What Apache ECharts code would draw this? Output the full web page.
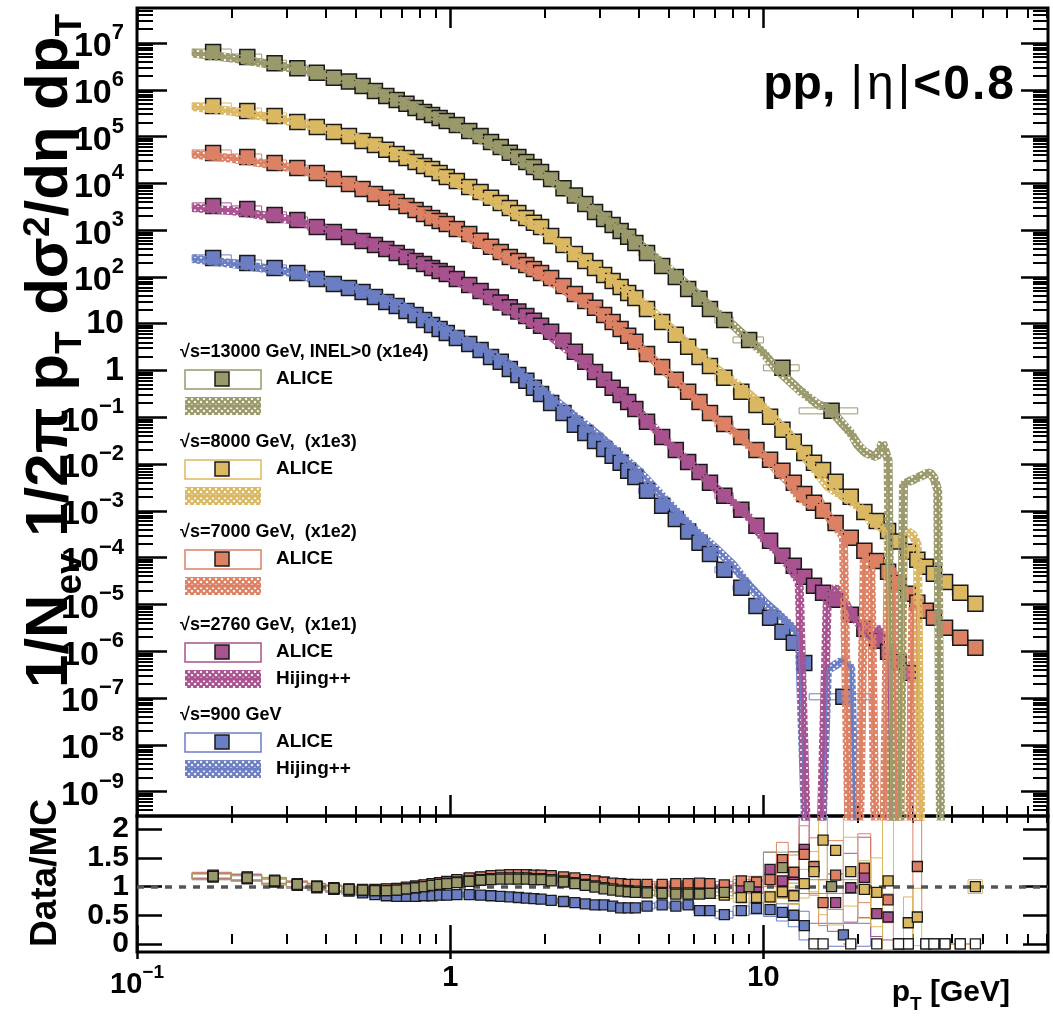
<!DOCTYPE html>
<html>
<head>
<meta charset="utf-8">
<title>pp charged particle spectra</title>
<script src="https://cdn.jsdelivr.net/npm/echarts@6/dist/echarts.min.js"></script>
<style>
  html, body { margin: 0; padding: 0; background: #fff; }
  #chart { width: 1053px; height: 1016px; }
</style>
</head>
<body>
<div id="chart"></div>
<script>
// pT bin edges in GeV (shared low part, then per energy)
let edgesLow = [0.15, 0.2, 0.25, 0.3, 0.35, 0.4, 0.45, 0.5, 0.55, 0.6, 0.65, 0.7, 0.75, 0.8, 0.85, 0.9, 0.95,
    1.0, 1.1, 1.2, 1.3, 1.4, 1.5, 1.6, 1.7, 1.8, 1.9, 2.0, 2.2, 2.4, 2.6, 2.8, 3.0, 3.2, 3.4, 3.6, 3.8,
    4.0, 4.5, 5.0, 5.5, 6.0, 6.5, 7.0, 8.0];
let edges13000 = edgesLow.concat([10, 13, 20]);
let edges8000 = edgesLow.concat([9, 10, 11, 12, 13, 14, 15, 16, 18, 20, 22, 24, 26, 28, 30, 32, 34, 36, 40, 45, 50]);
let edges7000 = edges8000;
let edges2760 = edgesLow.concat([9, 10, 11, 12, 13, 14, 15, 16, 18, 20, 22, 24, 26, 28, 30]);
let edges900 = edgesLow.concat([9, 10, 11, 12, 13, 14, 22]);

// ALICE spectra, already multiplied by the scale factor in the legend
let alice13000 = [6.4e6, 5.0e6, 3.7e6, 2.9e6, 2.3e6, 1.8e6, 1.5e6, 1.2e6, 9.4e5, 7.4e5, 6.05e5, 5.0e5, 4.1e5, 3.36e5, 2.9e5, 2.5e5, 2.15e5,
    1.77e5, 1.32e5, 1.03e5, 7.7e4, 6.0e4, 4.5e4, 3.66e4, 2.87e4, 2.24e4, 1.75e4,
    1.24e4, 7.9e3, 5.5e3, 3.6e3, 2.45e3, 1.73e3, 1.29e3, 960, 720, 530,
    326, 172, 100, 55, 34, 20.7,
    12,
    4.5, 1.14, 0.137];
let alice8000 = [4.5e5, 3.5e5, 2.75e5, 2.05e5, 1.6e5, 1.25e5, 1.03e5, 8.05e4, 6.6e4, 5.2e4, 4.25e4, 3.5e4, 2.87e4, 2.35e4, 2.03e4, 1.67e4, 1.37e4,
    1.12e4, 8.4e3, 6.55e3, 4.9e3, 3.8e3, 2.98e3, 2.33e3, 1.82e3, 1.43e3, 1.17e3,
    750, 483, 310, 220, 156, 110, 82, 61, 45.5, 35.6,
    20.7, 10.9, 5.8, 3.2, 1.95, 1.25,
    0.70,
    0.35, 0.184, 0.102, 0.054, 0.030, 0.0173, 0.0106, 0.0075,
    0.0042, 0.0020, 9.5e-4, 6.1e-4, 3.7e-4, 2.2e-4, 1.33e-4, 9.0e-5, 6.4e-5, 4.5e-5,
    3.0e-5, 1.77e-5, 1.03e-5];
let alice7000 = [4.47e4, 3.66e4, 2.73e4, 2.13e4, 1.67e4, 1.24e4, 9.7e3, 7.6e3, 5.9e3, 4.9e3, 4.0e3, 3.3e3, 2.7e3, 2.22e3, 1.82e3, 1.57e3, 1.36e3,
    1.06e3, 830, 590, 440, 342, 267, 220, 180, 148, 122,
    95, 64, 43, 30.7, 21.8, 15.4, 10.9, 7.7, 5.5, 4.1,
    2.26, 1.19, 0.63, 0.35, 0.213, 0.124,
    0.072,
    0.038, 0.020, 0.0123, 0.0072, 0.0040, 0.0023, 0.00148, 0.0010,
    5.5e-4, 2.65e-4, 1.4e-4, 8.5e-5, 5.0e-5, 2.9e-5, 1.68e-5, 1.08e-5, 7.3e-6, 5.2e-6,
    3.16e-6, 1.93e-6, 1.18e-6];
let alice2760 = [3.3e3, 2.84e3, 2.11e3, 1.65e3, 1.17e3, 916, 716, 588, 483, 396, 326, 267, 220, 190, 156, 134, 116,
    90.6, 67.5, 50.2, 37.4, 28.5, 22.5, 18.2, 14.7, 11.5, 9.0,
    6.7, 4.3, 2.5, 1.53, 0.93, 0.63, 0.425, 0.30, 0.213, 0.151,
    0.080, 0.038, 0.020, 0.0111, 0.0068, 0.0040,
    0.0021,
    0.00105, 4.8e-4, 2.3e-4, 1.09e-4, 6.7e-5, 3.9e-5, 2.5e-5, 1.77e-5,
    1.25e-5, 6.0e-6, 3.0e-6, 1.67e-6, 9.7e-7, 5.9e-7, 3.45e-7];
let alice900 = [255, 199, 156, 122, 90.6, 71, 58.2, 47.8, 37.4, 29.2, 24.0, 18.8, 15.4, 12.0, 9.4, 7.7, 6.35,
    4.97, 3.7, 2.75, 1.95, 1.53, 1.08, 0.805, 0.60, 0.425, 0.316,
    0.203, 0.124, 0.069, 0.046, 0.031, 0.0211, 0.0150, 0.0106, 0.0072, 0.0053,
    0.0027, 0.00128, 6.7e-4, 3.6e-4, 2.07e-4, 1.2e-4,
    5.5e-5,
    2.26e-5, 9.3e-6, 5.2e-6, 2.6e-6, 1.51e-6, 5.6e-7, 1.06e-7];

// Hijing++ curves (same scale factors), 0 = empty MC bin
let mcPt = [0.15, 0.2, 0.3, 0.4, 0.5, 0.7, 1.0, 1.5, 2.0, 3.0, 4.0, 5.0, 6.0, 7.0, 8.0, 9.0,
    10, 11, 12, 13, 14, 15, 16, 17, 18, 19, 20, 21, 22, 23, 24, 25, 26, 27, 28, 29, 30, 31, 32, 33, 34, 35, 36, 37, 38];
let mc13000 = [6.1e6, 4.8e6, 3.07e6, 2.07e6, 1.42e6, 5.6e5, 1.89e5, 4.57e4, 1.44e4, 2180, 522, 148, 50.2, 18.8, 9.25, 4.5,
    2.38, 1.08, 0.63, 0.385, 0.26, 0.184, 0.159, 0.107, 0.069, 0.046, 0.0257, 0.0182, 0.0157, 0.0143, 0.0284, 0.0123,
    0, 0, 0.0036, 0.0042, 0.0046, 0.0051, 0.0056, 0.0062, 0.0065, 0.0051, 0.0028, 0, 0];
let mc8000 = [4.4e5, 3.47e5, 2.26e5, 1.45e5, 9.8e4, 3.94e4, 1.18e4, 2940, 893, 131, 34.2, 8.7, 2.84, 1.15, 0.58, 0.313,
    0.167, 0.085, 0.0475, 0.0211, 0.0108, 0.0060, 0.0034, 0.00255, 0.0020, 0.00158, 0.00125, 0.0010, 5.8e-4, 5.0e-4, 4.3e-4, 3.4e-4,
    0, 0, 3.07e-4, 3.56e-4, 3.07e-4, 1.88e-4, 0, 0, 0, 0, 0, 0, 0];
let mc7000 = [4.25e4, 3.42e4, 2.24e4, 1.44e4, 9.0e3, 3.63e3, 1.15e3, 252, 96.6, 17.2, 3.39, 0.81, 0.26, 0.098, 0.050, 0.0245,
    0.0155, 0.0075, 0.0042, 0.0019, 0.00138, 0.00172, 8.2e-4, 4.6e-4, 2.8e-4, 0, 0, 1.06e-4, 9.0e-5, 0, 0, 6.5e-5,
    5.0e-5, 0, 0, 0, 1.0e-5, 8e-6, 0, 0, 0, 0, 0, 0, 0];
let mc2760 = [3.03e3, 2.61e3, 1.73e3, 1.06e3, 692, 295, 98.6, 21.2, 6.95, 0.76, 0.132, 0.027, 0.0087, 0.00316, 0.00153, 7.2e-4,
    2.55e-4, 1.4e-4, 7.0e-5, 3.04e-5, 0, 0, 1.6e-5, 2.26e-5, 1.38e-5, 6.0e-6, 4.25e-6, 2.6e-6, 1.75e-6, 3.16e-6, 2.24e-6, 2.07e-6,
    0, 0, 0, 0, 0, 0, 0, 0, 0, 0, 0, 0, 0];
let mc900 = [246, 194, 131, 80.5, 57.4, 24.1, 6.71, 1.53, 0.345, 0.039, 0.0070, 0.00142, 4.0e-4, 1.62e-4, 6.9e-5, 2.5e-5,
    1.16e-5, 6.7e-6, 3.95e-6, 2.24e-6, 0, 0, 4.0e-7, 5.1e-7, 6.5e-7, 4.4e-7, 0, 0, 0, 0, 0, 0,
    0, 0, 0, 0, 0, 0, 0, 0, 0, 0, 0, 0, 0];

// Data/MC ratio and its uncertainty, one entry per ALICE bin
let ratio13000 = [1.18, 1.15, 1.10, 1.04, 1.00, 0.97, 0.95, 0.94, 0.93, 0.93, 0.94, 0.96, 0.98, 1.00, 1.02, 1.04, 1.05,
    1.07, 1.09, 1.11, 1.12, 1.13, 1.13, 1.13, 1.13, 1.12, 1.12,
    1.10, 1.08, 1.05, 1.02, 0.99, 0.96, 0.94, 0.92, 0.91, 0.90,
    0.89, 0.88, 0.87, 0.87, 0.87, 0.88,
    0.90,
    1.00, 1.33, 1.00];
let ratio8000 = [1.17, 1.14, 1.09, 1.03, 0.99, 0.96, 0.94, 0.93, 0.93, 0.93, 0.94, 0.96, 0.98, 1.00, 1.02, 1.04, 1.06,
    1.08, 1.10, 1.12, 1.14, 1.15, 1.15, 1.15, 1.15, 1.14, 1.14,
    1.12, 1.10, 1.07, 1.04, 1.01, 0.98, 0.96, 0.94, 0.93, 0.92,
    0.91, 0.90, 0.89, 0.89, 0.88, 0.88,
    0.85,
    0.81, 0.81, 0.82, 0.91, 0.84, 1.05, 1.26, 1.81,
    1.63, 1.26, 0.95, 0.90, 1.10, 0, 0.37, 0.47, 0, 0,
    0, 0, 1.00];
let ratio7000 = [1.20, 1.17, 1.11, 1.05, 1.01, 0.98, 0.96, 0.95, 0.95, 0.96, 0.97, 0.99, 1.01, 1.03, 1.05, 1.07, 1.09,
    1.12, 1.15, 1.17, 1.19, 1.20, 1.21, 1.21, 1.21, 1.20, 1.20,
    1.19, 1.17, 1.15, 1.12, 1.10, 1.08, 1.06, 1.05, 1.04, 1.04,
    1.04, 1.04, 1.05, 1.05, 1.06, 1.05,
    1.03,
    1.10, 1.08, 1.12, 1.47, 1.25, 1.56, 1.35, 0.72,
    1.20, 0, 1.32, 0, 0.77, 0, 0, 1.35, 0, 0,
    0, 0, 0];
let ratio2760 = [1.19, 1.16, 1.10, 1.04, 1.00, 0.97, 0.95, 0.94, 0.94, 0.95, 0.96, 0.98, 1.00, 1.02, 1.04, 1.06, 1.08,
    1.11, 1.14, 1.16, 1.18, 1.19, 1.19, 1.19, 1.19, 1.18, 1.18,
    1.16, 1.13, 1.10, 1.07, 1.05, 1.03, 1.01, 1.00, 0.99, 0.99,
    0.99, 1.00, 1.00, 1.01, 1.00, 0.98,
    0.97,
    0.98, 1.00, 1.30, 1.10, 1.21, 1.65, 0, 0,
    0.72, 0.98, 1.16, 0.53, 0.47, 0, 0];
let ratio900 = [1.17, 1.14, 1.08, 1.02, 0.98, 0.95, 0.92, 0.89, 0.86, 0.84, 0.83, 0.83, 0.83, 0.84, 0.84, 0.85, 0.85,
    0.86, 0.86, 0.85, 0.84, 0.83, 0.82, 0.81, 0.80, 0.79, 0.78,
    0.76, 0.74, 0.72, 0.70, 0.68, 0.68, 0.66, 0.63, 0.63, 0.63,
    0.66, 0.68, 0.66, 0.68, 0.58, 0.58,
    0.51,
    0.58, 0.62, 0.60, 0.55, 0.50, 0.32, 0.16];

let err13000 = [0.05, 0.05, 0.05, 0.05, 0.05, 0.05, 0.05, 0.05, 0.05, 0.05, 0.05, 0.05, 0.05, 0.05, 0.05, 0.05, 0.05,
    0.04, 0.04, 0.04, 0.04, 0.04, 0.04, 0.04, 0.04, 0.04, 0.04,
    0.04, 0.04, 0.04, 0.04, 0.04, 0.04, 0.04, 0.04, 0.04, 0.04,
    0.05, 0.05, 0.05, 0.05, 0.05, 0.05,
    0.06,
    0.12, 0.27, 0.12];
let err8000 = [0.05, 0.05, 0.05, 0.05, 0.05, 0.05, 0.05, 0.05, 0.05, 0.05, 0.05, 0.05, 0.05, 0.05, 0.05, 0.05, 0.05,
    0.04, 0.04, 0.04, 0.04, 0.04, 0.04, 0.04, 0.04, 0.04, 0.04,
    0.04, 0.04, 0.04, 0.04, 0.04, 0.04, 0.04, 0.04, 0.04, 0.04,
    0.05, 0.05, 0.05, 0.05, 0.05, 0.05,
    0.06,
    0.08, 0.08, 0.10, 0.12, 0.15, 0.25, 0.35, 1.3,
    1.3, 0.6, 0.5, 0.6, 1.2, 0, 0.45, 0.5, 0, 0,
    0, 0, 0.12];
let err7000 = [0.05, 0.05, 0.05, 0.05, 0.05, 0.05, 0.05, 0.05, 0.05, 0.05, 0.05, 0.05, 0.05, 0.05, 0.05, 0.05, 0.05,
    0.04, 0.04, 0.04, 0.04, 0.04, 0.04, 0.04, 0.04, 0.04, 0.04,
    0.04, 0.04, 0.04, 0.04, 0.04, 0.04, 0.04, 0.04, 0.04, 0.04,
    0.05, 0.05, 0.05, 0.05, 0.05, 0.05,
    0.06,
    0.08, 0.10, 0.12, 0.3, 0.3, 0.5, 0.5, 0.4,
    0.6, 0, 0.6, 0, 0.4, 0, 0, 0.8, 0, 0,
    0, 0, 0];
let err2760 = [0.05, 0.05, 0.05, 0.05, 0.05, 0.05, 0.05, 0.05, 0.05, 0.05, 0.05, 0.05, 0.05, 0.05, 0.05, 0.05, 0.05,
    0.04, 0.04, 0.04, 0.04, 0.04, 0.04, 0.04, 0.04, 0.04, 0.04,
    0.04, 0.04, 0.04, 0.04, 0.04, 0.04, 0.04, 0.04, 0.04, 0.04,
    0.05, 0.05, 0.05, 0.05, 0.05, 0.05,
    0.06,
    0.08, 0.10, 0.3, 0.3, 0.4, 0.6, 0, 0,
    0.5, 0.6, 0.7, 0.4, 0.4, 0, 0];
let err900 = [0.05, 0.05, 0.05, 0.05, 0.05, 0.05, 0.05, 0.05, 0.05, 0.05, 0.05, 0.05, 0.05, 0.05, 0.05, 0.05, 0.05,
    0.04, 0.04, 0.04, 0.04, 0.04, 0.04, 0.04, 0.04, 0.04, 0.04,
    0.04, 0.04, 0.04, 0.04, 0.04, 0.04, 0.04, 0.04, 0.04, 0.04,
    0.05, 0.05, 0.05, 0.05, 0.05, 0.05,
    0.06,
    0.08, 0.10, 0.12, 0.15, 0.2, 0.25, 0.2];

// axis ticks
let xMajor = [0.1, 1, 10];
let yMajor = [1e-9, 1e-8, 1e-7, 1e-6, 1e-5, 1e-4, 1e-3, 1e-2, 0.1, 1, 10, 100, 1e3, 1e4, 1e5, 1e6, 1e7];
let ratioTicks = [0, 0.5, 1, 1.5, 2];
// labels split over two axes so that neighbouring labels are not thinned out
let ratioLabelsA = [0, 1, 2];
let ratioLabelsB = [0.5, 1.5];
let xMin = 0.1, xMax = 81;
let yMin = 3e-10, yMax = 5.6e7;
let ratioMin = -0.14, ratioMax = 2.23;

let font = 'Liberation Sans, Arial, sans-serif';

let xMinor = [];
xMajor.forEach(function (d) {
    for (let k = 2; k <= 9; k++) {
        if (k * d <= xMax) xMinor.push(k * d);
    }
});
let yMinor = [];
[1e-10].concat(yMajor).forEach(function (d) {
    for (let k = 2; k <= 9; k++) {
        if (k * d >= yMin && k * d <= yMax) yMinor.push(k * d);
    }
});

function hatchPattern(color) {
    let c = document.createElement('canvas');
    c.width = 6;
    c.height = 6;
    let ctx = c.getContext('2d');
    ctx.strokeStyle = color;
    ctx.lineWidth = 2.1;
    for (let d = -6; d <= 6; d += 6) {
        ctx.beginPath(); ctx.moveTo(d, 0); ctx.lineTo(d + 6, 6); ctx.stroke();
        ctx.beginPath(); ctx.moveTo(d + 6, 0); ctx.lineTo(d, 6); ctx.stroke();
    }
    return {image: c, repeat: 'repeat'};
}

let sets = [
    {label: '√s=13000 GeV, INEL>0 (x1e4)', color: '#9a996b', edges: edges13000, data: alice13000, mc: mc13000, ratio: ratio13000, err: err13000, mcLabel: ''},
    {label: '√s=8000 GeV,  (x1e3)', color: '#dbb862', edges: edges8000, data: alice8000, mc: mc8000, ratio: ratio8000, err: err8000, mcLabel: ''},
    {label: '√s=7000 GeV,  (x1e2)', color: '#dd8165', edges: edges7000, data: alice7000, mc: mc7000, ratio: ratio7000, err: err7000, mcLabel: ''},
    {label: '√s=2760 GeV,  (x1e1)', color: '#a8528f', edges: edges2760, data: alice2760, mc: mc2760, ratio: ratio2760, err: err2760, mcLabel: 'Hijing++'},
    {label: '√s=900 GeV', color: '#6b7ec3', edges: edges900, data: alice900, mc: mc900, ratio: ratio900, err: err900, mcLabel: 'Hijing++'}
];
sets.forEach(function (s) { s.hatch = hatchPattern(s.color); });

function mainBox(color) {
    return function (params, api) {
        let a = api.coord([api.value(0), api.value(2)]);
        let b = api.coord([api.value(1), api.value(2)]);
        return {
            type: 'rect',
            shape: {x: a[0], y: a[1] - 3, width: b[0] - a[0], height: 6},
            style: {fill: 'none', stroke: color, lineWidth: 1}
        };
    };
}

function ratioBox(color) {
    return function (params, api) {
        let a = api.coord([api.value(0), api.value(2) + api.value(3)]);
        let b = api.coord([api.value(1), api.value(2) - api.value(3)]);
        return {
            type: 'rect',
            shape: {x: a[0], y: a[1], width: b[0] - a[0], height: b[1] - a[1]},
            style: {fill: 'none', stroke: color, lineWidth: 1}
        };
    };
}

function center(s, i) {
    return (s.edges[i] + s.edges[i + 1]) / 2;
}

let series = [];
let drawOrder = sets.slice().reverse();

drawOrder.forEach(function (s) {
    series.push({
        type: 'custom', xAxisIndex: 0, yAxisIndex: 0, clip: true, silent: true, z: 2,
        renderItem: mainBox(s.color),
        encode: {x: [0, 1], y: 2},
        data: s.data.map(function (v, i) { return [s.edges[i], s.edges[i + 1], v]; })
    });
});
drawOrder.forEach(function (s) {
    series.push({
        type: 'scatter', xAxisIndex: 0, yAxisIndex: 0, silent: true, z: 3,
        symbol: 'rect', symbolSize: 15,
        itemStyle: {color: s.color, borderColor: '#1a1a1a', borderWidth: 1.5, opacity: 1},
        data: s.data.map(function (v, i) { return [center(s, i), v]; })
    });
});
drawOrder.forEach(function (s) {
    // empty MC bins fall off the bottom of the log axis
    let curve = mcPt.map(function (p, i) { return [p, s.mc[i] > 0 ? s.mc[i] : 1e-12]; });
    series.push({
        type: 'line', xAxisIndex: 0, yAxisIndex: 0, silent: true, z: 4, clip: true,
        symbol: 'none', lineStyle: {width: 9, color: s.hatch},
        data: curve
    });
});
drawOrder.forEach(function (s) {
    let curve = mcPt.map(function (p, i) { return [p, s.mc[i] > 0 ? s.mc[i] : 1e-12]; });
    series.push({
        type: 'line', xAxisIndex: 0, yAxisIndex: 0, silent: true, z: 5, clip: true,
        symbol: 'none', lineStyle: {width: 2.5, color: s.color},
        data: curve
    });
});

// ratio panel
drawOrder.forEach(function (s) {
    series.push({
        type: 'custom', xAxisIndex: 4, yAxisIndex: 4, clip: true, silent: true, z: 2,
        renderItem: ratioBox(s.color),
        encode: {x: [0, 1], y: 2},
        data: s.ratio.map(function (r, i) { return [s.edges[i], s.edges[i + 1], r, s.err[i]]; })
    });
});
drawOrder.forEach(function (s, k) {
    let ser = {
        type: 'scatter', xAxisIndex: 4, yAxisIndex: 4, silent: true, z: 4, clip: true,
        symbol: 'rect', symbolSize: 10,
        itemStyle: {
            color: function (p) { return p.value[1] === 0 ? '#ffffff' : s.color; },
            borderColor: '#1a1a1a', borderWidth: 1.3, opacity: 1
        },
        data: s.ratio.map(function (r, i) { return [center(s, i), r]; })
    };
    if (k === 0) {
        ser.markLine = {
            silent: true, symbol: ['none', 'none'], z: 3,
            label: {show: false},
            lineStyle: {color: '#555', type: [7, 7], width: 3.5},
            data: [{yAxis: 1}]
        };
    }
    series.push(ser);
});

let tickLine = function (w) { return {color: '#000', width: w}; };

function logX(grid, pos, ticks, len, width, labels) {
    let axis = {
        type: 'log', logBase: 10, min: xMin, max: xMax, gridIndex: grid, position: pos,
        axisLine: {show: false}, splitLine: {show: false},
        axisTick: {show: true, inside: true, length: len, customValues: ticks, lineStyle: tickLine(width)},
        axisLabel: {show: false}
    };
    if (labels) {
        axis.axisLabel = {
            show: true, customValues: xMajor, margin: 11, color: '#000',
            showMinLabel: true, showMaxLabel: true,
            fontSize: 29, fontWeight: 'bold', fontFamily: font,
            formatter: function (v) {
                let e = Math.round(Math.log10(v));
                if (e === 0) return '1';
                if (e === 1) return '10';
                return '{m|10}{s|' + (e < 0 ? '\u2212' + (-e) : e) + '}';
            },
            rich: {
                m: {fontSize: 29, fontWeight: 'bold', fontFamily: font, color: '#000', verticalAlign: 'bottom', padding: [7, 0, 0, 0]},
                s: {fontSize: 19, fontWeight: 'bold', fontFamily: font, color: '#000', verticalAlign: 'top'}
            }
        };
    }
    return axis;
}

function logY(pos, ticks, len, width, labels) {
    let axis = {
        type: 'log', logBase: 10, min: yMin, max: yMax, gridIndex: 0, position: pos,
        axisLine: {show: false}, splitLine: {show: false},
        axisTick: {show: true, inside: true, length: len, customValues: ticks, lineStyle: tickLine(width)},
        axisLabel: {show: false}
    };
    if (labels) {
        axis.axisLabel = {
            show: true, customValues: yMajor, margin: 13, color: '#000',
            showMinLabel: true, showMaxLabel: true,
            fontSize: 34, fontWeight: 'bold', fontFamily: font,
            formatter: function (v) {
                let e = Math.round(Math.log10(v));
                if (e === 0) return '1';
                if (e === 1) return '10';
                return '{m|10}{s|' + (e < 0 ? '\u2212' + (-e) : e) + '}';
            },
            rich: {
                m: {fontSize: 34, fontWeight: 'bold', fontFamily: font, color: '#000', verticalAlign: 'bottom', padding: [8, 0, 0, 0]},
                s: {fontSize: 22, fontWeight: 'bold', fontFamily: font, color: '#000', verticalAlign: 'top'}
            }
        };
    }
    return axis;
}

function ratioY(pos, ticks, labels) {
    return {
        type: 'value', gridIndex: 1, min: ratioMin, max: ratioMax, position: pos,
        axisLine: {show: false}, splitLine: {show: false},
        axisTick: ticks ? {show: true, inside: true, length: 25, customValues: ticks, lineStyle: tickLine(2.5)} : {show: false},
        axisLabel: labels ? {
            show: true, customValues: labels, margin: 8, color: '#000',
            showMinLabel: true, showMaxLabel: true,
            fontSize: 30, fontWeight: 'bold', fontFamily: font
        } : {show: false}
    };
}

// legend, drawn by hand in ROOT style
let legendY = [352, 442, 532, 625, 715];
let graphics = [];
sets.forEach(function (s, k) {
    let y0 = legendY[k];
    graphics.push({type: 'text', x: 180, y: y0, z: 10, style: {text: s.label, fill: '#000', fontSize: 18, fontWeight: 'bold', fontFamily: font, verticalAlign: 'middle'}});
    graphics.push({type: 'rect', z: 10, shape: {x: 185, y: y0 + 18, width: 76, height: 19}, style: {fill: '#fff', stroke: s.color, lineWidth: 1.5}});
    graphics.push({type: 'rect', z: 11, shape: {x: 215, y: y0 + 20, width: 14, height: 14}, style: {fill: s.color, stroke: '#1a1a1a', lineWidth: 1.5}});
    graphics.push({type: 'text', x: 276, y: y0 + 27, z: 10, style: {text: 'ALICE', fill: '#000', fontSize: 19, fontWeight: 'bold', fontFamily: font, verticalAlign: 'middle'}});
    graphics.push({type: 'rect', z: 10, shape: {x: 185, y: y0 + 45, width: 76, height: 18}, style: {fill: s.hatch, stroke: 'none'}});
    graphics.push({type: 'line', z: 11, shape: {x1: 185, y1: y0 + 54, x2: 261, y2: y0 + 54}, style: {stroke: s.color, lineWidth: 3}});
    if (s.mcLabel) {
        graphics.push({type: 'text', x: 276, y: y0 + 54, z: 10, style: {text: s.mcLabel, fill: '#000', fontSize: 19, fontWeight: 'bold', fontFamily: font, verticalAlign: 'middle'}});
    }
});

// axis titles and the system label
graphics.push({
    type: 'text', x: 55, y: 14, rotation: Math.PI / 2, z: 10,
    style: {
        text: '{a|1/N}{b|ev}{a| 1/2\u03c0 p}{b|T}{a| d\u03c3}{c|2}{a|/d\u03b7 dp}{b|T}',
        align: 'right', verticalAlign: 'middle', fill: '#000',
        rich: {
            a: {fontSize: 60, fontWeight: 'bold', fontFamily: font, fill: '#000', verticalAlign: 'top'},
            b: {fontSize: 37, fontWeight: 'bold', fontFamily: font, fill: '#000', verticalAlign: 'bottom', padding: [32, 0, 0, 0]},
            c: {fontSize: 37, fontWeight: 'bold', fontFamily: font, fill: '#000', verticalAlign: 'top'}
        }
    }
});
graphics.push({
    type: 'text', x: 46, y: 873, rotation: Math.PI / 2, z: 10,
    style: {text: 'Data/MC', align: 'center', verticalAlign: 'middle', fill: '#000', fontSize: 37, fontWeight: 'bold', fontFamily: font}
});
graphics.push({
    type: 'text', x: 1010, y: 996, z: 10,
    style: {
        text: '{a|p}{b|T}{a| [GeV]}',
        align: 'right', verticalAlign: 'middle', fill: '#000',
        rich: {
            a: {fontSize: 30, fontWeight: 'bold', fontFamily: font, fill: '#000', verticalAlign: 'top'},
            b: {fontSize: 19, fontWeight: 'bold', fontFamily: font, fill: '#000', verticalAlign: 'bottom', padding: [17, 0, 0, 0]}
        }
    }
});
graphics.push({
    type: 'text', x: 1015, y: 86, z: 10,
    style: {
        text: '{a|pp,}{a| }{b||}{b|\u03b7}{b||}{c|<}{c|0}{c|.}{c|8}',
        align: 'right', verticalAlign: 'middle', fill: '#000',
        rich: {
            a: {fontSize: 48, fontWeight: 'bold', fontFamily: font, fill: '#000'},
            b: {fontSize: 48, fontWeight: 'normal', fontFamily: font, fill: '#000', padding: [0, 2, 0, 2]},
            c: {fontSize: 48, fontWeight: 'bold', fontFamily: font, fill: '#000', padding: [0, 1, 0, 1]}
        }
    }
});

let chart = echarts.init(document.getElementById('chart'));
chart.setOption({
    animation: false,
    backgroundColor: '#fff',
    textStyle: {fontFamily: font},
    grid: [
        {left: 137, top: 8, right: 5, height: 808, show: true, borderColor: '#000', borderWidth: 3},
        {left: 137, top: 816, right: 5, height: 136, show: true, borderColor: '#000', borderWidth: 3}
    ],
    xAxis: [
        logX(0, 'bottom', xMajor, 21, 2.5),
        logX(0, 'bottom', xMinor, 10, 2),
        logX(0, 'top', xMajor, 20, 2.5),
        logX(0, 'top', xMinor, 10, 2),
        logX(1, 'bottom', xMajor, 19, 2.5, true),
        logX(1, 'bottom', xMinor, 10, 2),
        logX(1, 'top', xMajor, 15, 2.5),
        logX(1, 'top', xMinor, 7, 2)
    ],
    yAxis: [
        logY('left', yMajor, 30, 2.5, true),
        logY('left', yMinor, 16, 2),
        logY('right', yMajor, 27, 2.5),
        logY('right', yMinor, 15, 2),
        ratioY('left', ratioTicks, ratioLabelsA),
        ratioY('right', ratioTicks, null),
        ratioY('left', null, ratioLabelsB)
    ],
    series: series,
    graphic: graphics
});
</script>
</body>
</html>
